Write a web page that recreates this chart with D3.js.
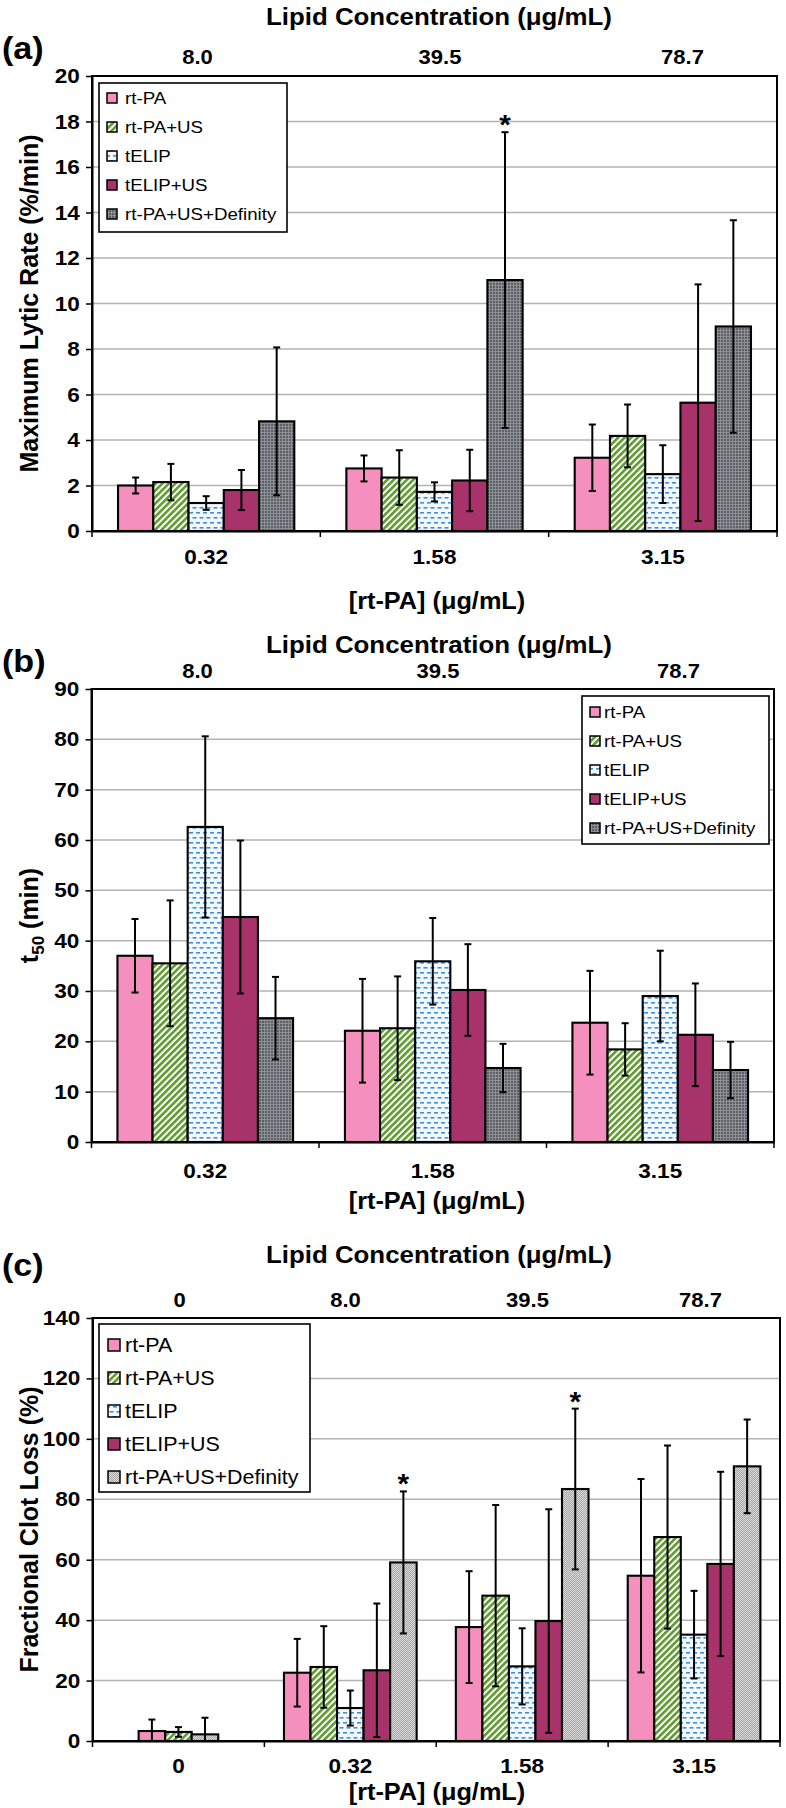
<!DOCTYPE html>
<html><head><meta charset="utf-8">
<script src="https://cdn.jsdelivr.net/npm/d3@7"></script>
<style>
body{margin:0;background:#fff}
svg{display:block}
text{font-family:"Liberation Sans",Arial,Helvetica,sans-serif;fill:#000}
</style>
</head><body>
<svg id="chart" width="786" height="1808"></svg>
<script>
// ---------------- DATA ----------------
const series = ["rt-PA","rt-PA+US","tELIP","tELIP+US","rt-PA+US+Definity"];
const rtpaAB = ["0.32","1.58","3.15"];
const lipidAB = ["8.0","39.5","78.7"];
const rtpaC = ["0","0.32","1.58","3.15"];
const lipidC = ["0","8.0","39.5","78.7"];

const ticksA = [0,2,4,6,8,10,12,14,16,18,20];
const ticksB = [0,10,20,30,40,50,60,70,80,90];
const ticksC = [0,20,40,60,80,100,120,140];

// rows = series (rt-PA, rt-PA+US, tELIP, tELIP+US, rt-PA+US+Definity), cols = [rt-PA] groups
const meanA = [[2.0,2.75,3.22],[2.15,2.35,4.18],[1.23,1.72,2.5],[1.8,2.22,5.64],[4.82,11.03,8.99]];
const errA  = [[0.35,0.57,1.46],[0.8,1.2,1.38],[0.3,0.42,1.27],[0.88,1.35,5.2],[3.25,6.5,4.67]];
const starsA = [[4,1]];

const meanB = [[37.0,22.1,23.7],[35.5,22.6,18.4],[62.6,35.9,29.0],[44.7,30.2,21.3],[24.6,14.7,14.3]];
const errB  = [[7.3,10.3,10.3],[12.5,10.3,5.2],[18.0,8.6,9.0],[15.2,9.1,10.2],[8.2,4.8,5.6]];
const starsB = [];

const meanC = [[3.3,22.6,37.7,54.7],[3.0,24.5,48.1,67.5],[null,10.9,24.7,35.2],[null,23.4,39.7,58.6],[2.2,59.1,83.4,90.9]];
const errC  = [[3.8,11.2,18.5,32.0],[1.6,13.5,30.0,30.3],[null,5.8,12.6,14.5],[null,22.1,37.0,30.5],[5.5,23.5,26.6,15.5]];
const starsC = [[4,1],[4,2]];

// ---------------- LAYOUT ----------------
const SX = 1.1;
const FONT = '"Liberation Sans",Arial,Helvetica,sans-serif';
const svg = d3.select("#chart");
const defs = svg.append("defs");

// patterns
const pS = defs.append("pattern").attr("id","stripe").attr("patternUnits","userSpaceOnUse")
  .attr("width",4.6).attr("height",4.6).attr("patternTransform","rotate(45)");
pS.append("rect").attr("width",4.6).attr("height",4.6).attr("fill","#ffffff");
pS.append("rect").attr("width",2.6).attr("height",4.6).attr("fill","#5e9a2e");

const pD = defs.append("pattern").attr("id","dash").attr("patternUnits","userSpaceOnUse")
  .attr("width",7).attr("height",10);
pD.append("rect").attr("width",7).attr("height",10).attr("fill","#f2f8fd");
pD.append("rect").attr("x",0).attr("y",2).attr("width",4).attr("height",1.6).attr("fill","#3f90d4");
pD.append("rect").attr("x",3.5).attr("y",7).attr("width",4).attr("height",1.6).attr("fill","#3f90d4");
pD.append("rect").attr("x",-3.5).attr("y",7).attr("width",4).attr("height",1.6).attr("fill","#3f90d4");

const pK = defs.append("pattern").attr("id","defDark").attr("patternUnits","userSpaceOnUse")
  .attr("width",3).attr("height",3);
pK.append("rect").attr("width",3).attr("height",3).attr("fill","#5c6066");
pK.append("rect").attr("width",3).attr("height",1).attr("fill","#8d9196");
pK.append("rect").attr("width",1).attr("height",3).attr("fill","#8d9196");

const pL = defs.append("pattern").attr("id","defLight").attr("patternUnits","userSpaceOnUse")
  .attr("width",2).attr("height",2);
pL.append("rect").attr("width",2).attr("height",2).attr("fill","#a4a4a4");
pL.append("rect").attr("x",0).attr("y",0).attr("width",1).attr("height",1).attr("fill","#dcdcdc");
pL.append("rect").attr("x",1).attr("y",1).attr("width",1).attr("height",1).attr("fill","#dcdcdc");

const PINK = "#f48fbe", MAROON = "#a8336a";

const panels = [
  {letter:"(a)", letterY:59, titleY:25, lipidPad:12, lipidX:[197,682],
   left:92, right:777, top:76, bottom:531,
   groups:rtpaAB, lipid:lipidAB, ticks:ticksA, mean:meanA, err:errA, stars:starsA,
   ylabel:"Maximum Lytic Rate (%/min)", xTickPad:18, xTitleY:609, def:"defDark",
   legend:{x:99,y:83,w:188,h:149,sw:10,swX:8,txX:26,fs:17,step:29,first:15}},
  {letter:"(b)", letterY:672, titleY:653, lipidPad:11, lipidX:[197,678],
   left:91.5, right:774, top:689, bottom:1142,
   groups:rtpaAB, lipid:lipidAB, ticks:ticksB, mean:meanB, err:errB, stars:starsB,
   ylabel:null, xTickPad:21, xTitleY:1209, def:"defDark",
   legend:{x:582,y:696,w:187,h:148,sw:10,swX:8,txX:22,fs:17,step:29,first:16}},
  {letter:"(c)", letterY:1276, titleY:1263, lipidPad:11, lipidX:null, lipidPos:[179,345,527,700],
   left:92.5, right:780, top:1318, bottom:1741,
   groups:rtpaC, lipid:lipidC, ticks:ticksC, mean:meanC, err:errC, stars:starsC,
   ylabel:"Fractional Clot Loss (%)", xTickPad:17, xTitleY:1800, def:"defLight",
   legend:{x:99,y:1324,w:211,h:168,sw:12,swX:9,txX:26,fs:19.5,step:33,first:21}}
];

function stext(parent, x, y, str, size, weight, anchor){
  return parent.append("text")
    .attr("transform", `translate(${x},${y}) scale(${SX},1)`)
    .attr("text-anchor", anchor || "middle")
    .attr("font-size", size).attr("font-weight", weight || "normal")
    .text(str);
}

panels.forEach(p => {
  const g = svg.append("g");
  const fills = [PINK, "url(#stripe)", "url(#dash)", MAROON, `url(#${p.def})`];
  const x = d3.scaleBand().domain(p.groups).range([p.left, p.right]);
  const y = d3.scaleLinear().domain([0, d3.max(p.ticks)]).range([p.bottom, p.top]);
  const cx = gname => x(gname) + x.bandwidth()/2;

  // gridlines
  g.append("g").selectAll("line").data(p.ticks.filter(t => t > 0)).join("line")
    .attr("x1", p.left).attr("x2", p.right)
    .attr("y1", d => y(d)).attr("y2", d => y(d))
    .attr("stroke", "#b3b3b3").attr("stroke-width", 1.5);

  // bars
  const barW = x.bandwidth() * 0.772 / series.length;
  const barsG = g.append("g");
  const errs = [];
  p.groups.forEach((gn, gi) => {
    const present = series.map((s, si) => si).filter(si => p.mean[si][gi] != null);
    const inner = d3.scaleBand().domain(present)
      .range([-barW*present.length/2, barW*present.length/2]);
    present.forEach(si => {
      const v = p.mean[si][gi], e = p.err[si][gi];
      const bx = cx(gn) + inner(si);
      barsG.append("rect")
        .attr("x", bx).attr("width", inner.bandwidth())
        .attr("y", y(v)).attr("height", y(0) - y(v))
        .attr("fill", fills[si]).attr("stroke", "#000").attr("stroke-width", 2.1);
      errs.push({x: bx + inner.bandwidth()/2, v, e, si, gi});
    });
  });

  // error bars
  const eg = g.append("g").attr("stroke", "#000").attr("stroke-width", 2);
  errs.forEach(d => {
    const hi = d.v + d.e, lo = Math.max(0, d.v - d.e);
    eg.append("line").attr("x1", d.x).attr("x2", d.x).attr("y1", y(hi)).attr("y2", y(lo));
    eg.append("line").attr("x1", d.x-3.5).attr("x2", d.x+3.5).attr("y1", y(hi)).attr("y2", y(hi));
    if (d.v - d.e > 0)
      eg.append("line").attr("x1", d.x-3.5).attr("x2", d.x+3.5).attr("y1", y(lo)).attr("y2", y(lo));
  });

  // asterisks
  p.stars.forEach(([si, gi]) => {
    const d = errs.find(e => e.si === si && e.gi === gi);
    stext(g, d.x, y(d.v + d.e) + 2, "*", 27, "bold");
  });

  // frame
  g.append("rect").attr("x", p.left).attr("y", p.top)
    .attr("width", p.right - p.left).attr("height", p.bottom - p.top)
    .attr("fill", "none").attr("stroke", "#000").attr("stroke-width", 2);

  // y axis
  const ya = g.append("g").attr("transform", `translate(${p.left},0)`)
    .call(d3.axisLeft(y).tickValues(p.ticks).tickFormat(d3.format("d")).tickSize(6).tickPadding(5).tickSizeOuter(0));
  ya.select(".domain").attr("stroke", "#000").attr("stroke-width", 2);
  ya.selectAll(".tick line").attr("stroke", "#000").attr("stroke-width", 1.5);
  ya.selectAll("text").attr("font-size", 20.5).attr("font-weight", "bold").attr("font-family", FONT)
    .attr("transform", `scale(${SX},1)`).attr("fill", "#000");

  // x axis labels (group centers) + boundary ticks
  const xa = g.append("g").attr("transform", `translate(0,${p.bottom})`)
    .call(d3.axisBottom(x).tickSize(0).tickPadding(p.xTickPad));
  xa.select(".domain").attr("stroke", "#000").attr("stroke-width", 2);
  xa.selectAll("text").attr("font-size", 20.5).attr("font-weight", "bold").attr("font-family", FONT)
    .attr("transform", `scale(${SX},1)`).attr("fill", "#000");
  const bounds = p.groups.map(gn => x(gn)).concat([p.right]);
  g.append("g").selectAll("line").data(bounds).join("line")
    .attr("x1", d => d).attr("x2", d => d)
    .attr("y1", p.bottom).attr("y2", p.bottom + 6)
    .attr("stroke", "#000").attr("stroke-width", 1.5);

  // top axis: lipid concentration
  const lp = p.lipidPos
    ? d3.scaleOrdinal().domain(p.lipid).range(p.lipidPos)
    : d3.scalePoint().domain(p.lipid).range(p.lipidX);
  const ta = g.append("g").attr("transform", `translate(0,${p.top})`)
    .call(d3.axisTop(lp).tickSize(0).tickPadding(p.lipidPad));
  ta.select(".domain").remove();
  ta.selectAll("text").attr("font-size", 20).attr("font-weight", "bold").attr("font-family", FONT)
    .attr("transform", `scale(${SX},1)`).attr("fill", "#000");

  // titles
  stext(g, 439, p.titleY, "Lipid Concentration (\u03BCg/mL)", 23.5, "bold");
  stext(g, 437, p.xTitleY, "[rt-PA] (\u03BCg/mL)", 23, "bold");
  stext(g, 2, p.letterY, p.letter, 31, "bold", "start");

  // y label
  const yc = (p.top + p.bottom) / 2;
  const yl = g.append("text").attr("transform", `translate(38,${yc}) rotate(-90)`)
    .attr("text-anchor", "middle").attr("font-size", 25).attr("font-weight", "bold");
  if (p.ylabel) yl.text(p.ylabel);
  else {
    yl.append("tspan").text("t");
    yl.append("tspan").attr("font-size", 17).attr("dy", 6).text("50");
    yl.append("tspan").attr("dy", -6).text(" (min)");
  }

  // legend
  const L = p.legend;
  const lg = g.append("g").attr("transform", `translate(${L.x},${L.y})`);
  lg.append("rect").attr("width", L.w).attr("height", L.h)
    .attr("fill", "#fff").attr("stroke", "#000").attr("stroke-width", 1.6);
  series.forEach((s, si) => {
    const cy = L.first + si * L.step;
    lg.append("rect").attr("x", L.swX).attr("y", cy - L.sw/2).attr("width", L.sw).attr("height", L.sw)
      .attr("fill", fills[si]).attr("stroke", "#000").attr("stroke-width", 1.5);
    stext(lg, L.txX, cy + L.fs*0.36, s, L.fs, "normal", "start");
  });
});
</script>
</body></html>
